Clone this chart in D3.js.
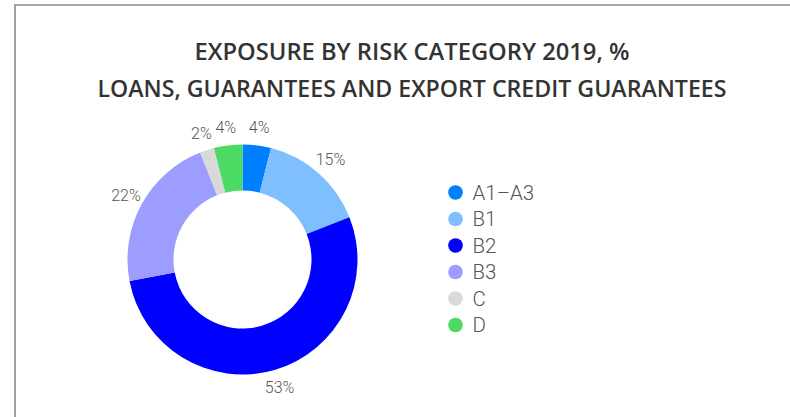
<!DOCTYPE html>
<html>
<head>
<meta charset="utf-8">
<script src="https://cdn.jsdelivr.net/npm/d3@7"></script>
<style>
  html, body { margin: 0; padding: 0; background: #fff; }
  svg { display: block; }
</style>
</head>
<body>
<svg id="chart" width="790" height="417"></svg>
<script>
const titleLines = ["EXPOSURE BY RISK CATEGORY 2019, %", "LOANS, GUARANTEES AND EXPORT CREDIT GUARANTEES"];
const categories = ["A1\u2013A3", "B1", "B2", "B3", "C", "D"];
const values = [4, 15, 53, 22, 2, 4];
const colors = ["#0080ff", "#80bfff", "#0000ff", "#9d9dff", "#d9d9d9", "#4cd964"];

const svg = d3.select("#chart");

// frame
svg.append("path")
  .attr("d", "M15,417 L15,5 L790,5")
  .attr("fill", "none")
  .attr("stroke", "#8a8a8a")
  .attr("stroke-width", 1.6);

// title
const titleWidths = [435, 629];
const titleY = [59.5, 96.5];
svg.selectAll("text.title").data(titleLines).enter().append("text")
  .attr("class", "title")
  .attr("x", 412)
  .attr("y", (d, i) => titleY[i])
  .attr("text-anchor", "middle")
  .attr("textLength", (d, i) => titleWidths[i])
  .attr("lengthAdjust", "spacingAndGlyphs")
  .attr("font-family", "'Open Sans', sans-serif")
  .attr("font-weight", 600)
  .attr("font-size", 22.5)
  .attr("fill", "#333")
  .text(d => d);

// donut
const cx = 242.5, cy = 259.5, outerR = 115, innerR = 69, labelR = 133;
const data = categories.map((c, i) => ({ cat: c, value: values[i], color: colors[i] }));
const pie = d3.pie().value(d => d.value).sort(null);
const arc = d3.arc().innerRadius(innerR).outerRadius(outerR);
const arcs = pie(data);
const g = svg.append("g").attr("transform", `translate(${cx},${cy})`);
g.selectAll("path").data(arcs).enter().append("path")
  .attr("d", arc)
  .attr("fill", d => d.data.color);

const labelArc = d3.arc().innerRadius(labelR).outerRadius(labelR);
g.selectAll("text").data(arcs).enter().append("text")
  .attr("transform", d => `translate(${labelArc.centroid(d)})`)
  .attr("text-anchor", "middle")
  .attr("dominant-baseline", "central")
  .attr("font-family", "Roboto, sans-serif")
  .attr("font-weight", 300)
  .attr("font-size", 16)
  .attr("fill", "#555")
  .text(d => d.data.value + "%");

// legend
const legendY = d3.scalePoint().domain(categories).range([192.5, 325]);
const lg = svg.append("g");
lg.selectAll("circle").data(data).enter().append("circle")
  .attr("cx", 455.5)
  .attr("cy", d => legendY(d.cat))
  .attr("r", 7.3)
  .attr("fill", d => d.color);
lg.selectAll("text").data(data).enter().append("text")
  .attr("x", 472.5)
  .attr("y", d => legendY(d.cat))
  .attr("dominant-baseline", "central")
  .attr("font-family", "Roboto, sans-serif")
  .attr("font-weight", 300)
  .attr("font-size", 20.5)
  .attr("fill", "#555")
  .text(d => d.cat);
</script>
</body>
</html>
